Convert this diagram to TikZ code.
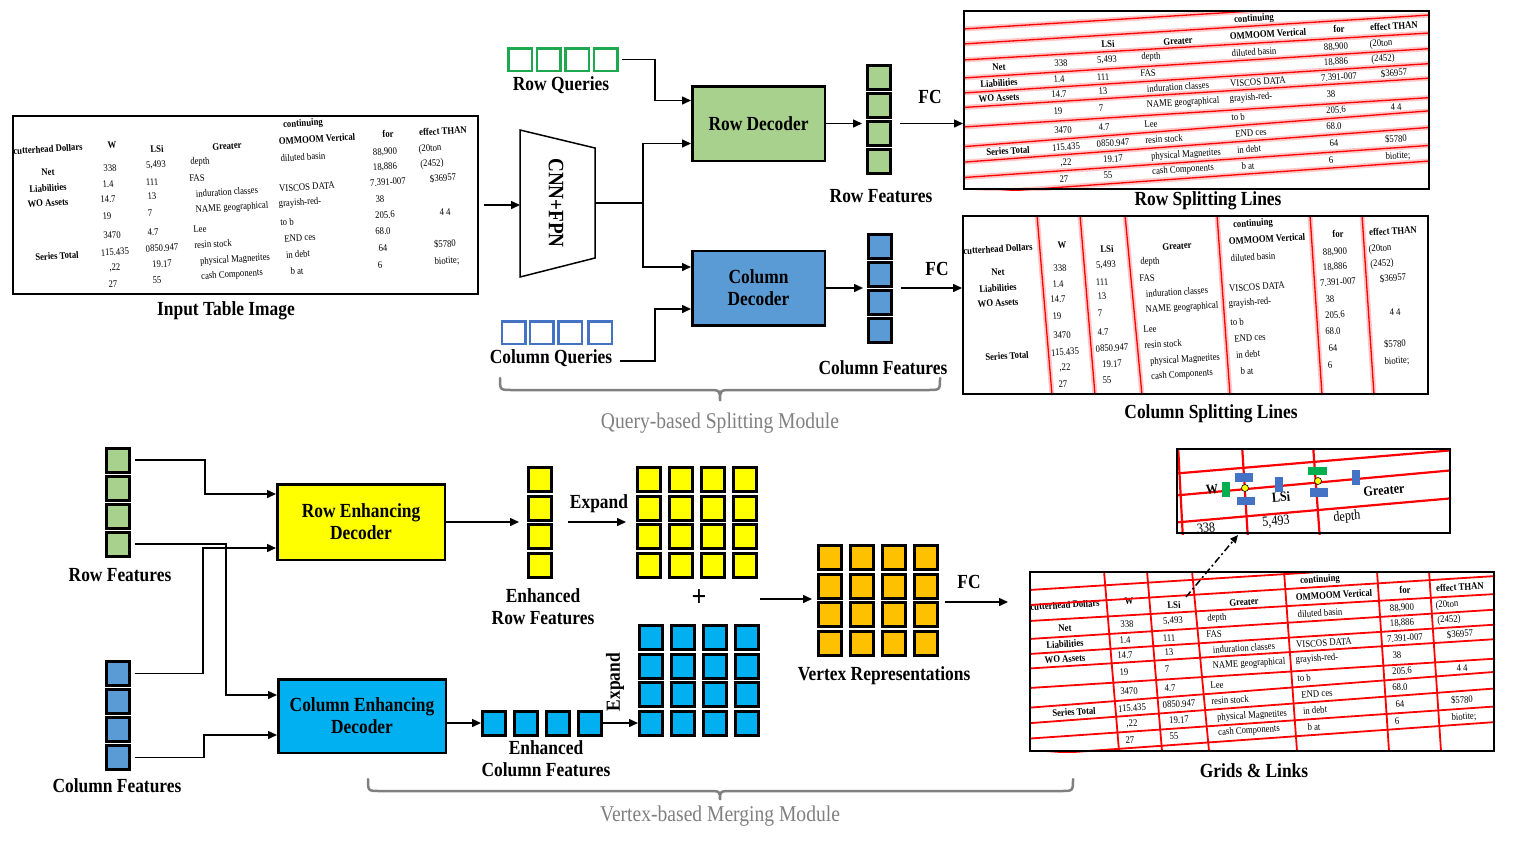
\documentclass[tikz,border=0pt]{standalone}
\usepackage{fontspec}
\setmainfont{Liberation Serif}[FakeStretch=0.87]
\newfontfamily\plainfont{Liberation Serif}[FakeStretch=0.87]
\usetikzlibrary{arrows.meta,calc}
\definecolor{rowgreen}{RGB}{169,209,142}
\definecolor{colblue}{RGB}{91,155,213}
\definecolor{qgreen}{RGB}{30,168,80}
\definecolor{qblue}{RGB}{68,114,196}
\definecolor{yel}{RGB}{255,255,0}
\definecolor{cyanb}{RGB}{0,176,240}
\definecolor{orng}{RGB}{255,192,0}
\definecolor{brgray}{RGB}{128,128,128}
\definecolor{barblue}{RGB}{68,114,196}
\definecolor{bargreen}{RGB}{0,176,80}
\newcounter{txc}
\newcommand\cellr[2]{\stepcounter{txc}\node[tabtxt] (t\arabic{txc}) at (#1) {#2};}
\newcommand\cellb[2]{\stepcounter{txc}\node[tabtxt] (t\arabic{txc}) at (#1) {\bfseries #2};}
\newcommand\tablecontent[1]{%
\ifnum#1=1
\cellb{36,34}{cutterhead Dollars}
\cellb{100,30}{W}
\fi
\cellb{145,34}{LSi}
\cellb{215,31}{Greater}
\cellb{291,9}{continuing}
\cellb{305,24}{OMMOOM Vertical}
\cellb{376,19}{for}
\cellb{431,16}{effect THAN}
\cellr{291,42}{diluted basin}
\cellr{373,37}{88,900}
\cellr{418,34}{(20ton}
\cellb{36,57}{Net}
\cellr{98,53}{338}
\cellr{144,50}{5,493}
\cellr{188,47}{depth}
\cellr{373,52}{18,886}
\cellr{420,49}{(2452)}
\cellb{36,73}{Liabilities}
\cellr{96,69}{1.4}
\cellr{140,67}{111}
\cellr{185,63}{FAS}
\cellr{376,67}{7.391-007}
\cellr{431,63}{\$36957}
\cellb{36,88}{WO Assets}
\cellr{96,84}{14.7}
\cellr{140,81}{13}
\cellr{215,77}{induration classes}
\cellr{295,72}{VISCOS DATA}
\cellr{368,84}{38}
\cellr{95,101}{19}
\cellr{138,98}{7}
\cellr{220,93}{NAME geographical}
\cellr{288,88}{grayish-red-}
\cellr{373,100}{205.6}
\cellr{433,97}{4 4}
\cellr{100,120}{3470}
\cellr{141,117}{4.7}
\cellr{188,114}{Lee}
\cellr{275,107}{to b}
\cellr{371,116}{68.0}
\cellb{45,141}{Series Total}
\cellr{103,137}{115.435}
\cellr{150,133}{0850.947}
\cellr{201,129}{resin stock}
\cellr{288,123}{END ces}
\cellr{371,133}{64}
\cellr{433,129}{\$5780}
\cellr{223,145}{physical Magnetites}
\cellr{103,153}{,22}
\cellr{150,149}{19.17}
\cellr{286,139}{in debt}
\cellr{368,150}{6}
\cellr{435,146}{biotite;}
\cellr{101,169}{27}
\cellr{145,165}{55}
\cellr{220,160}{cash Components}
\cellr{285,156}{b at}
}
\newcommand\rowlinesA[1]{\foreach \a/\b in {19/-10,34/5,50/23,68/38.6,83/53.6,97.5/68.1,117/87.6,136.7/100.8,152.2/117.4,167.6/135.4,184.2/151}{\draw[#1] (0,\a) -- (467,\b);}}
\newcommand\collinesA[1]{\foreach \a/\b in {75/90,118/133,163/180,255/268,348/360,400/412}{\draw[#1] (\a,0) -- (\b,180);}}
\begin{document}
\begin{tikzpicture}[x=1pt,y=-1pt,
  lab/.style={font=\fontsize{20}{22}\selectfont\bfseries, align=center, inner sep=0},
  graylab/.style={font=\plainfont\fontsize{22.5}{24}\selectfont, text=brgray, inner sep=0},
  box/.style={draw, line width=2.5, minimum width=132.5, minimum height=74.5, align=center, inner sep=0, font=\fontsize{20}{22}\selectfont\bfseries},
  sq/.style={draw, line width=3, minimum width=23, minimum height=24, inner sep=0},
  qsq/.style={draw, line width=2.5, minimum width=23.5, minimum height=22.5, inner sep=0},
  frame/.style={draw, line width=2, minimum width=465, minimum height=178, inner sep=0},
  arr/.style={line width=1.5, -{Triangle[length=9pt,width=8pt]}},
  ln/.style={line width=1.5},
  tabtxt/.style={font=\fontsize{10}{12}\selectfont, rotate=3.5, inner sep=0},
  ztxt/.style={font=\fontsize{14}{16}\selectfont, rotate=5, inner sep=0},
  glow/.style={red!22, line width=5},
  redl/.style={red, line width=1.3},
  gridl/.style={red, line width=1.8},
  brace/.style={brgray, line width=2.5, line cap=round}
]
\useasboundingbox (0,0) rectangle (1520,852);
\fill[white] (0,0) rectangle (1520,852);

% ===== Input table image =====
\begin{scope}[shift={(12,115)}]
  \clip (0,0) rectangle (467,180);
  \tablecontent{1}
\end{scope}
\node[frame] (inp) at (245.5,205) {};
\node[lab] (inplab) at (226,311) {Input Table Image};

% ===== CNN+FPN =====
\draw[line width=1.5] (520,130) -- (595,148) -- (595,258) -- (520,277) -- cycle;
\coordinate (cnnL) at (520,205);
\coordinate (cnnR) at (595,203);
\coordinate (sp) at (643,203);
\node[lab, rotate=-90, font=\fontsize{22}{24}\selectfont\bfseries] (cnn) at (556,203) {CNN+FPN};

% ===== Queries =====
\foreach \i/\x in {1/520,2/548.5,3/577,4/605.5}
  \node[qsq, draw=qgreen] (rq\i) at (\x,59.5) {};
\node[lab] (rql) at (561,85) {Row Queries};
\foreach \i/\x in {1/513.5,2/541.5,3/570,4/600}
  \node[qsq, draw=qblue] (cq\i) at (\x,332.5) {};
\node[lab] (cql) at (551,358) {Column Queries};

% ===== Decoders =====
\node[box, fill=rowgreen] (rdec) at (758.5,123.5) {Row Decoder};
\node[box, fill=colblue] (cdec) at (758.5,288) {Column\\Decoder};

% ===== Features (top) =====
\foreach \i/\y in {1/77.5,2/105.5,3/133.5,4/161.5}
  \node[sq, fill=rowgreen] (rf\i) at (879,\y) {};
\node[lab] (rfl) at (881,196) {Row Features};
\foreach \i/\y in {1/246.5,2/274.5,3/302.5,4/330.5}
  \node[sq, fill=colblue] (cf\i) at (880,\y) {};
\node[lab] (cfl) at (883,368) {Column Features};
\node[lab] (fc1) at (930,97) {FC};
\node[lab] (fc2) at (937,269) {FC};

% ===== Row splitting lines image =====
\begin{scope}[shift={(963,10)}]
  \clip (0,0) rectangle (467,180);
  \tablecontent{0}
  \rowlinesA{glow}
  \rowlinesA{redl}
\end{scope}
\node[frame] (rowimg) at (1196.5,100) {};
\node[lab] (rowimgl) at (1208,201) {Row Splitting Lines};

% ===== Column splitting lines image =====
\begin{scope}[shift={(962,215)}]
  \clip (0,0) rectangle (467,180);
  \tablecontent{1}
  \collinesA{glow}
  \collinesA{redl}
\end{scope}
\node[frame] (colimg) at (1195.5,305) {};
\node[lab] (colimgl) at (1211,414) {Column Splitting Lines};

% ===== Top connectors =====
\draw[arr] ($(inp.east)+(5,0)$) -- (cnnL);
\draw[ln] (cnnR) -- (sp);
\draw[arr] (sp) |- ($(rdec.west)+(0,20)$);
\draw[arr] (sp) |- ($(cdec.west)+(0,-21)$);
\draw[arr] ($(rq4.east)+(3,0)$) -| ($(rdec.west)+(-36,-23)$) -- ($(rdec.west)+(0,-23)$);
\draw[arr] ($(cql.east)+(8,3)$) -| ($(cdec.west)+(-36,21)$) -- ($(cdec.west)+(0,21)$);
\draw[arr] (rdec.east) -- ($(rdec.east -| rf1.west)+(-4,0)$);
\draw[arr] ($(rdec.east -| rf1.east)+(8,0)$) -- (rdec.east -| rowimg.west);
\draw[arr] (cdec.east) -- ($(cdec.east -| cf1.west)+(-4,0)$);
\draw[arr] ($(cdec.east -| cf1.east)+(8,0)$) -- (cdec.east -| colimg.west);

% top brace
\draw[brace] (500,378) .. controls (500,390) .. (512,390) -- (708,390) .. controls (720,390) .. (720,401) .. controls (720,390) .. (732,390) -- (928,390) .. controls (940,390) .. (940,378);
\node[graylab] (qmod) at (720,423) {Query-based Splitting Module};

% ===== Bottom: features =====
\foreach \i/\y in {1/460,2/488,3/516,4/544}
  \node[sq, fill=rowgreen] (brf\i) at (118,\y) {};
\node[lab] (brfl) at (120,575) {Row Features};
\foreach \i/\y in {1/673.5,2/701.5,3/729.5,4/757.5}
  \node[sq, fill=colblue] (bcf\i) at (117.5,\y) {};
\node[lab] (bcfl) at (117,786) {Column Features};

% enhancing decoders
\node[box, fill=yel, minimum width=167.5, minimum height=75.5] (red) at (361,522) {Row Enhancing\\Decoder};
\node[box, fill=cyanb, minimum width=167.5, minimum height=73.5] (ced) at (362,716) {Column Enhancing\\Decoder};

\draw[arr] ($(brf1.east)+(4,0)$) -| ($(red.west)+(-71,-28)$) -- ($(red.west)+(0,-28)$);
\draw[arr] ($(brf4.east)+(4,0)$) -| ($(ced.west)+(-51,-21)$) -- ($(ced.west)+(0,-21)$);
\draw[arr] ($(bcf1.east)+(4,0)$) -| ($(red.west)+(-73,26)$) -- ($(red.west)+(0,26)$);
\draw[arr] ($(bcf4.east)+(4,0)$) -| ($(ced.west)+(-73,19)$) -- ($(ced.west)+(0,19)$);

% enhanced row features
\foreach \i/\y in {1/479.5,2/508,3/536.5,4/565}
  \node[sq, fill=yel] (erf\i) at (540,\y) {};
\node[lab] (erfl) at (543,607) {Enhanced\\Row Features};
% yellow grid
\foreach \c/\x in {1/649,2/681,3/713,4/745}
  \foreach \r/\y in {1/479.5,2/508,3/536.5,4/565}
    \node[sq, fill=yel] (yg\r\c) at (\x,\y) {};
\node[lab] (exp1) at (599,504) {Expand};
\draw[arr] (red.east) -- ($(red.east -| erf1.west)+(-8,0)$);
\draw[arr] ($(red.east -| erf1.east)+(15,0)$) -- ($(red.east -| yg11.west)+(-10,0)$);

\node[lab, font=\fontsize{30}{32}\selectfont\bfseries] (plus) at (699,598) {+};

% enhanced column features
\foreach \i/\x in {1/494,2/526,3/558,4/590}
  \node[sq, fill=cyanb] (ecf\i) at (\x,723) {};
\node[lab] (ecfl) at (546,759) {Enhanced\\Column Features};
% blue grid
\foreach \c/\x in {1/651,2/683,3/715,4/747}
  \foreach \r/\y in {1/637.5,2/666,3/694.5,4/723}
    \node[sq, fill=cyanb] (bg\r\c) at (\x,\y) {};
\draw[arr] (ced.east |- ecf1.west) -- (ecf1.west);
\draw[arr] (ecf4.east) -- (bg41.west);
\node[lab, rotate=90] (exp2) at (615,682) {Expand};

% vertex grid
\foreach \c/\x in {1/830,2/862,3/894,4/926}
  \foreach \r/\y in {1/557.5,2/586,3/614.5,4/643}
    \node[sq, fill=orng] (vg\r\c) at (\x,\y) {};
\node[lab] (vgl) at (884,676) {Vertex Representations};
\draw[arr] ($(plus)+(61,1)$) -- ($(vg11.west |- plus)+(-5,1)$);
\node[lab] (fc3) at (969,582) {FC};
\coordinate (vgE) at (945,602);

% ===== Grids & Links image =====
\begin{scope}[shift={(1029,571)}]
  \clip (0,0) rectangle (466,181);
  \tablecontent{1}
  \rowlinesA{gridl}
  \collinesA{gridl}
\end{scope}
\node[frame, minimum width=464, minimum height=179] (grid) at (1262,661.5) {};
\node[lab] (gridl) at (1254,771) {Grids \& Links};
\draw[arr] (vgE) -- ($(grid.west |- vgE)+(-21,0)$);

% ===== zoomed image =====
\begin{scope}
  \clip (1176,448) rectangle (1451,534);
  \draw[gridl, line width=2.2] (1170,474) -- (1455,450);
  \draw[gridl, line width=2.2] (1170,496) -- (1455,470);
  \draw[gridl, line width=2.2] (1170,523) -- (1455,498);
  \draw[gridl, line width=2.2] (1178,445) -- (1183,540);
  \draw[gridl, line width=2.2] (1242,445) -- (1248,540);
  \draw[gridl, line width=2.2] (1313,445) -- (1320,540);
  \node[ztxt] (zW) at (1212,489) {\bfseries W};
  \node[ztxt] (zL) at (1281,497) {\bfseries LSi};
  \node[ztxt] (zG) at (1384,490) {\bfseries Greater};
  \node[ztxt] (z1) at (1206,528) {338};
  \node[ztxt] (z2) at (1276,522) {5,493};
  \node[ztxt] (z3) at (1347,517) {depth};
  \fill[bargreen] (1222,482) rectangle (1230,497);
  \fill[bargreen] (1308,467) rectangle (1327,475);
  \fill[barblue] (1235,473) rectangle (1253,482);
  \fill[barblue] (1237,497) rectangle (1255,505);
  \fill[barblue] (1275,477) rectangle (1283,492);
  \fill[barblue] (1310,488) rectangle (1328,497);
  \fill[barblue] (1352,470) rectangle (1360,485);
  \filldraw[fill=yel, draw=black, line width=0.6] (1245,488) circle (3.5);
  \filldraw[fill=yel, draw=black, line width=0.6] (1318,481) circle (3.5);
\end{scope}
\node[draw, line width=2, minimum width=273, minimum height=84, inner sep=0] (zoomimg) at (1313.5,491) {};
\coordinate (dA) at (1186,597);
\draw[line width=1.5, dash pattern=on 7pt off 3pt on 2pt off 3pt, -{Triangle[length=8pt,width=7pt]}] (dA) -- ($(zoomimg.south west)+(62,1)$);

% bottom brace
\draw[brace] (368,779) .. controls (368,791) .. (380,791) -- (708,791) .. controls (720,791) .. (720,800) .. controls (720,791) .. (732,791) -- (1061,791) .. controls (1073,791) .. (1073,779);
\node[graylab] (vmod) at (720,816) {Vertex-based Merging Module};
\end{tikzpicture}
\end{document}
